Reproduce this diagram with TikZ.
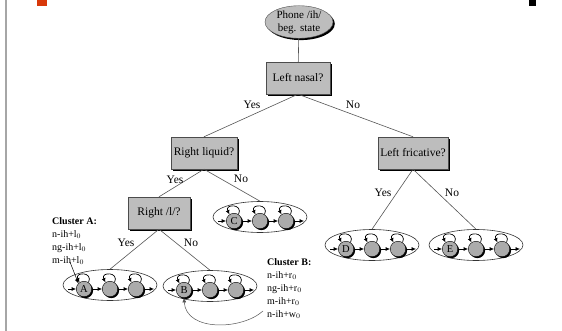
\documentclass[tikz,border=0pt]{standalone}
\usepackage{fontspec}
\setmainfont{Liberation Serif}
\usepackage{tikz}
\usetikzlibrary{arrows.meta,calc,shadows,shapes.geometric}
\definecolor{treegray}{HTML}{BDBDBD}
\definecolor{stategray}{HTML}{ABABAB}
\definecolor{treeline}{HTML}{555555}
\definecolor{markred}{HTML}{D8380A}
\begin{document}
\begin{tikzpicture}[x=1pt,y=1pt,
  shad/.style={drop shadow={shadow xshift=1.8pt,shadow yshift=-1.8pt,fill=black,opacity=1}},
  qbox/.style={draw=black!70,fill=treegray,shad,minimum width=64pt,minimum height=32pt,inner sep=2pt,font=\fontsize{11.5}{12}\selectfont},
  root/.style={ellipse,draw=black!70,fill=treegray,shad,minimum width=68pt,minimum height=32pt,inner sep=0pt,align=center,font=\fontsize{11}{13}\selectfont},
  hmm/.style={ellipse,draw=black!80,line width=0.6pt,minimum width=94pt,minimum height=31pt,inner sep=0pt},
  st/.style={circle,draw=black,fill=stategray,minimum size=15.5pt,inner sep=0pt,drop shadow={shadow xshift=1.4pt,shadow yshift=-1.4pt,fill=black,opacity=1},font=\fontsize{10.5}{10}\selectfont},
  lbl/.style={font=\fontsize{11.5}{12}\selectfont,inner sep=0pt},
  clus/.style={anchor=north west,align=left,inner sep=0pt,font=\fontsize{10}{13}\selectfont},
  ln/.style={treeline,line width=0.6pt},
  ar/.style={-{Latex[length=4.4pt,width=4pt]},black,line width=0.7pt}]
  \useasboundingbox (0,0) rectangle (562,-331);
  \draw[gray!70,line width=1.3pt] (6,0)--(6,-331);
  \fill[markred] (37,0) rectangle (47,-6);
  \fill[black] (529,0) rectangle (536,-6);
  \node[root] (ph) at (299,-22) {Phone /ih/\\beg. state};
  \node[qbox] (ln) at (298,-78) {Left nasal?};
  \node[qbox,minimum width=66pt] (rl) at (204,-153) {Right liquid?};
  \node[qbox,minimum width=69pt] (lf) at (413,-153) {Left fricative?};
  \node[qbox,minimum width=62pt] (rr) at (159,-213) {Right /l/?};
  \foreach \n/\x/\y/\l in {C/260/-217/C,A/110/-285/A,B/210/-286/B,D/372/-245/D,E/476/-245/E}{
    \node[hmm] (\n) at (\x,\y) {};
    \node[st] (\n1) at (\x-26,\y-4) {\l};
    \node[st] (\n2) at (\x,\y-4) {};
    \node[st] (\n3) at (\x+26,\y-4) {};
    \coordinate (\n-in) at (\x-42,\y-4); \coordinate (\n-out) at (\x+44,\y-4);
    \draw[ar] (\n-in)--(\n1); \draw[ar] (\n1)--(\n2); \draw[ar] (\n2)--(\n3); \draw[ar] (\n3)--(\n-out);
    \foreach \s in {1,2,3} \draw[ar] (\n\s.55) .. controls +(65:12) and +(115:12) .. (\n\s.125);
  }
  \draw[ln] (ph)--(ln); \draw[ln] (ln.south)--(rl.north); \draw[ln] (ln.south)--(lf.north);
  \draw[ln] (rl.south)--(rr.north); \draw[ln] (rl.south)--(C.north);
  \draw[ln] (rr.south)--(A.north); \draw[ln] (rr.south)--(B.north);
  \draw[ln] (lf.south)--(D.north); \draw[ln] (lf.south)--(E.north);
  \node[lbl] (lnY) at (252,-105) {Yes}; \node[lbl] (lnN) at (353,-105) {No};
  \node[lbl] (rlY) at (175,-180) {Yes}; \node[lbl] (rlN) at (241,-179) {No};
  \node[lbl] (rrY) at (126,-243) {Yes}; \node[lbl] (rrN) at (191,-243) {No};
  \node[lbl] (lfY) at (383,-193) {Yes}; \node[lbl] (lfN) at (452,-193) {No};
  \node[clus] (clA) at (52,-217) {\textbf{Cluster A:}\\n-ih+l$_0$\\ng-ih+l$_0$\\m-ih+l$_0$};
  \node[clus] (clB) at (267,-258) {\textbf{Cluster B:}\\n-ih+r$_0$\\ng-ih+r$_0$\\m-ih+r$_0$\\n-ih+w$_0$};
  \coordinate (clA-end) at (70,-262); \coordinate (clB-end) at (263,-311);
  \draw[ar,line width=0.5pt] (clA-end)--(A1.135);
  \draw[ar,line width=0.5pt,treeline] (clB-end) .. controls (242,-330) and (186,-332) .. (B1.south);
\end{tikzpicture}
\end{document}
